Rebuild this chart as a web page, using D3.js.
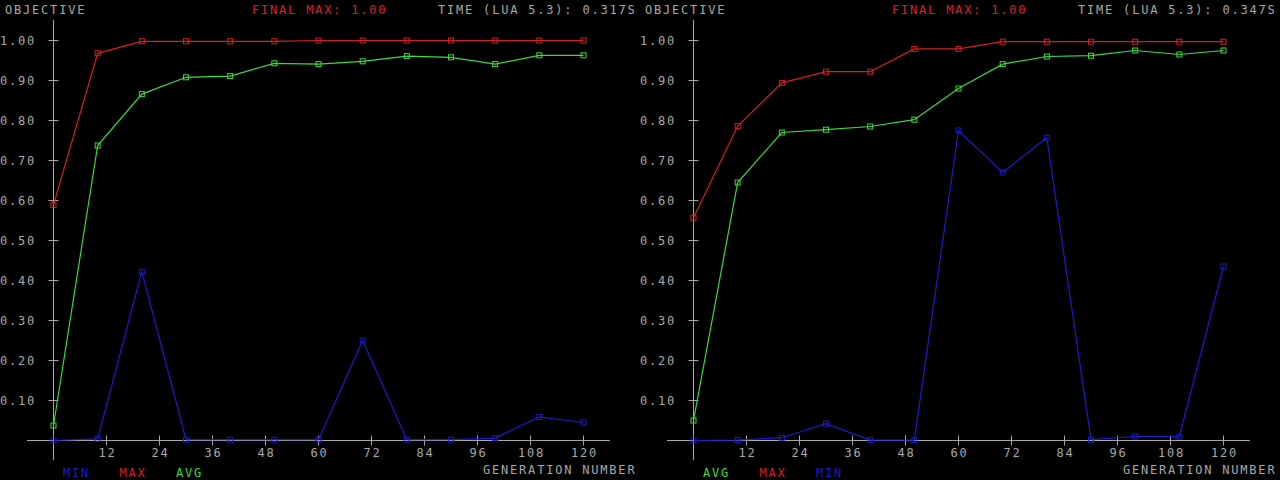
<!DOCTYPE html>
<html lang="en">
<head>
    <meta charset="UTF-8">
    <title>GA objective</title>
    <script src="https://cdn.jsdelivr.net/npm/d3@7"></script>
    <style>
        body { margin: 0; background: #000; }
        svg { display: block; }
        text { font-family: "DejaVu Sans Mono", monospace; font-size: 12px; letter-spacing: 1.8px; }
    </style>
</head>
<body>
    <div id="vis"></div>

    <script>

        // generation numbers where each sample was taken
        var generations = [0, 10, 20, 30, 40, 50, 60, 70, 80, 90, 100, 110, 120];

        // left run (lua 5.3, 0.317s)
        var leftMax = [0.589, 0.968, 0.998, 0.998, 0.998, 0.998, 1.0, 1.0, 1.0, 1.0, 1.0, 1.0, 1.0];
        var leftAvg = [0.0375, 0.7375, 0.866, 0.908, 0.911, 0.943, 0.941, 0.948, 0.961, 0.958, 0.941, 0.963, 0.963];
        var leftMin = [0, 0.004, 0.422, 0.002, 0.002, 0.002, 0.002, 0.25, 0.002, 0.002, 0.006, 0.059, 0.045];

        // right run (lua 5.3, 0.347s)
        var rightMax = [0.557, 0.786, 0.894, 0.922, 0.922, 0.979, 0.979, 0.997, 0.997, 0.997, 0.997, 0.997, 0.997];
        var rightAvg = [0.05, 0.645, 0.77, 0.777, 0.785, 0.802, 0.88, 0.941, 0.96, 0.962, 0.975, 0.965, 0.975];
        var rightMin = [0, 0.001, 0.007, 0.042, 0.001, 0.001, 0.775, 0.67, 0.757, 0.002, 0.01, 0.01, 0.435];

        var xTicks = [12, 24, 36, 48, 60, 72, 84, 96, 108, 120];
        var yTicks = [0.1, 0.2, 0.3, 0.4, 0.5, 0.6, 0.7, 0.8, 0.9, 1.0];

        var finalMax = ["FINAL MAX: 1.00", "FINAL MAX: 1.00"];
        var runTimes = ["TIME (LUA 5.3): 0.317S", "TIME (LUA 5.3): 0.347S"];

        var colors = { MIN: "#1c1cc8", MAX: "#d42020", AVG: "#3ed83e" };
        var grey = "#a8a8a8";

        var panels = [
            { series: [["MIN", leftMin], ["MAX", leftMax], ["AVG", leftAvg]] },
            { series: [["AVG", rightAvg], ["MAX", rightMax], ["MIN", rightMin]] }
        ];

        var width = 1280;
        var height = 480;
        var panelWidth = 640;

        var svg = d3.select("#vis")
            .append("svg")
              .attr("width", width)
              .attr("height", height);

        var x_scale = d3.scaleLinear()
            .domain([0, 120])
            .range([53.5, 583.5]);

        var y_scale = d3.scaleLinear()
            .domain([0, 1])
            .range([440.5, 40.5]);

        panels.forEach(function(p, pi) {
            var g = svg.append("g")
                .attr("transform", "translate(" + (pi * panelWidth) + ",0)");

            // axes lines
            g.append("line")
                .attr("x1", x_scale(0)).attr("x2", x_scale(0))
                .attr("y1", 20).attr("y2", 460)
                .attr("stroke", grey);
            g.append("line")
                .attr("x1", 27).attr("x2", 610)
                .attr("y1", y_scale(0)).attr("y2", y_scale(0))
                .attr("stroke", grey);

            // y ticks + labels
            g.selectAll(".ytick")
                .data(yTicks)
                .enter()
                .append("line")
                .attr("class", "ytick")
                .attr("x1", x_scale(0) - 5).attr("x2", x_scale(0) + 5)
                .attr("y1", function(d) { return y_scale(d); })
                .attr("y2", function(d) { return y_scale(d); })
                .attr("stroke", grey);

            g.selectAll(".ylabel")
                .data(yTicks)
                .enter()
                .append("text")
                .attr("class", "ylabel")
                .attr("x", 0)
                .attr("y", function(d) { return y_scale(d) + 4.5; })
                .attr("fill", grey)
                .text(function(d) { return d3.format(".2f")(d); });

            // x ticks + labels
            g.selectAll(".xtick")
                .data(xTicks)
                .enter()
                .append("line")
                .attr("class", "xtick")
                .attr("x1", function(d) { return x_scale(d); })
                .attr("x2", function(d) { return x_scale(d); })
                .attr("y1", y_scale(0) - 5).attr("y2", y_scale(0) + 5)
                .attr("stroke", grey);

            g.selectAll(".xlabel")
                .data(xTicks)
                .enter()
                .append("text")
                .attr("class", "xlabel")
                .attr("x", function(d) { return x_scale(d) + 1; })
                .attr("y", 457)
                .attr("text-anchor", "middle")
                .attr("fill", grey)
                .text(function(d) { return d; });

            g.append("text")
                .attr("x", 483).attr("y", 474)
                .attr("fill", grey)
                .text("GENERATION NUMBER");

            // header
            g.append("text")
                .attr("x", 5).attr("y", 14)
                .attr("fill", grey)
                .text("OBJECTIVE");
            g.append("text")
                .attr("x", 252).attr("y", 14)
                .attr("fill", "#e02020")
                .text(finalMax[pi]);
            g.append("text")
                .attr("x", 438).attr("y", 14)
                .attr("fill", grey)
                .text(runTimes[pi]);

            // series lines + square markers
            var line = d3.line()
                .x(function(d, i) { return x_scale(generations[i]); })
                .y(function(d) { return y_scale(d); });

            p.series.forEach(function(s, si) {
                var name = s[0], vals = s[1];
                g.append("path")
                    .datum(vals)
                    .attr("d", line)
                    .attr("fill", "none")
                    .attr("stroke", colors[name])
                    .attr("stroke-width", 1.2);

                g.selectAll(".mk" + si)
                    .data(vals)
                    .enter()
                    .append("rect")
                    .attr("class", "mk" + si)
                    .attr("x", function(d, i) { return x_scale(generations[i]) - 2.5; })
                    .attr("y", function(d) { return y_scale(d) - 2.5; })
                    .attr("width", 5)
                    .attr("height", 5)
                    .attr("fill", "none")
                    .attr("stroke", colors[name]);

                // legend under the axis
                g.append("text")
                    .attr("x", 63 + si * 56.5)
                    .attr("y", 477)
                    .attr("fill", colors[name])
                    .text(name);
            });
        });

    </script>
</body>
</html>
